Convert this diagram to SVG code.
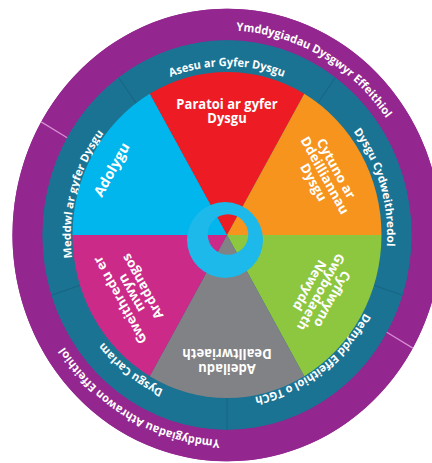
<svg xmlns="http://www.w3.org/2000/svg" width="432" height="463" viewBox="0 0 432 463">
<style>
.st{font-family:"Open Sans","Liberation Sans",sans-serif;font-weight:bold;font-size:13px;fill:#fff;text-anchor:middle}
.rt{font-family:"Open Sans","Liberation Sans",sans-serif;font-weight:bold;font-size:11px;fill:#fff;text-anchor:middle}
.pt{font-family:"Open Sans","Liberation Sans",sans-serif;font-weight:bold;font-size:11px;fill:#fff;text-anchor:middle}
.teal{fill:#1b7393}
.purple{fill:#93278f}
.tdiv{stroke:#176683;stroke-width:1}
.pdiv{stroke:#dc8fd6;stroke-width:1.2}
</style>
<defs>
<path id="p1" d="M-159.4,-13.9 A160,160 0 0 1 159.4,-13.9"/>
<path id="p2" d="M-33.3,-156.5 A160,160 0 0 1 59.9,148.4"/>
<path id="p3" d="M129.4,-94 A160,160 0 0 1 -129.4,94"/>
<path id="p4" d="M127.8,96.3 A160,160 0 0 1 -127.8,-96.3"/>
<path id="p5" d="M-41.4,154.5 A160,160 0 0 1 41.4,-154.5"/>
<path id="p6" d="M-160.8,-108.5 A194,194 0 0 1 177.2,78.9"/>
<path id="p7" d="M159.9,109.9 A194,194 0 0 1 -176.5,-80.5"/>
</defs>
<rect width="432" height="463" fill="#fff"/>
<g transform="translate(227,235) scale(1,1.055)">
  <circle r="214.5" class="purple"/>
  <circle r="184.5" class="teal"/>
  <g id="ring-learners">
    <path class="purple" d="M-185.8,-107.25 A214.5,214.5 0 0 1 107.25,-185.8 A214.5,214.5 0 0 1 185.8,107.25 L159.8,92.25 A184.5,184.5 0 0 0 92.25,-159.8 A184.5,184.5 0 0 0 -159.8,-92.25 Z"/>
    <text class="pt"><textPath href="#p6" startOffset="50%">Ymddygiadau Dysgwyr Effeithiol</textPath></text>
  </g>
  <g id="ring-teachers">
    <path class="purple" d="M185.8,107.25 A214.5,214.5 0 0 1 -107.25,185.8 A214.5,214.5 0 0 1 -185.8,-107.25 L-159.8,-92.25 A184.5,184.5 0 0 0 -92.25,159.8 A184.5,184.5 0 0 0 159.8,92.25 Z"/>
    <text class="pt"><textPath href="#p7" startOffset="50%">Ymddygiadau Athrawon Effeithiol</textPath></text>
  </g>
  <g id="seg-asesu">
    <path class="teal" d="M-108.4,-149.3 A184.5,184.5 0 0 1 108.4,-149.3 L90.8,-125 A154.5,154.5 0 0 0 -90.8,-125 Z"/>
    <text class="rt"><textPath href="#p1" startOffset="50%">Asesu ar Gyfer Dysgu</textPath></text>
  </g>
  <g id="seg-cydweithredol">
    <path class="teal" d="M108.4,-149.3 A184.5,184.5 0 0 1 175.5,57 L146.9,47.7 A154.5,154.5 0 0 0 90.8,-125 Z"/>
    <text class="rt"><textPath href="#p2" startOffset="50%">Dysgu Cydweithredol</textPath></text>
  </g>
  <g id="seg-tgch">
    <path class="teal" d="M175.5,57 A184.5,184.5 0 0 1 0,184.5 L0,154.5 A154.5,154.5 0 0 0 146.9,47.7 Z"/>
    <text class="rt"><textPath href="#p3" startOffset="50%">Defnydd Effeithiol o TGCh</textPath></text>
  </g>
  <g id="seg-carlam">
    <path class="teal" d="M0,184.5 A184.5,184.5 0 0 1 -175.5,57 L-146.9,47.7 A154.5,154.5 0 0 0 0,154.5 Z"/>
    <text class="rt"><textPath href="#p4" startOffset="50%">Dysgu Carlam</textPath></text>
  </g>
  <g id="seg-meddwl">
    <path class="teal" d="M-175.5,57 A184.5,184.5 0 0 1 -108.4,-149.3 L-90.8,-125 A154.5,154.5 0 0 0 -146.9,47.7 Z"/>
    <text class="rt"><textPath href="#p5" startOffset="50%">Meddwl ar gyfer Dysgu</textPath></text>
  </g>
  <g id="connectors">
    <line class="tdiv" x1="-90.8" y1="-125" x2="-108.4" y2="-149.3"/>
    <line class="tdiv" x1="90.8" y1="-125" x2="108.4" y2="-149.3"/>
    <line class="tdiv" x1="146.9" y1="47.7" x2="175.5" y2="57"/>
    <line class="tdiv" x1="0" y1="154.5" x2="0" y2="184.5"/>
    <line class="tdiv" x1="-146.9" y1="47.7" x2="-175.5" y2="57"/>
    <line class="pdiv" x1="159.8" y1="92.25" x2="185.8" y2="107.25"/>
    <line class="pdiv" x1="-159.8" y1="-92.25" x2="-185.8" y2="-107.25"/>
  </g>
  <g id="paratoi">
    <path fill="#ed1c24" d="M0,0 L-77.25,-133.8 A154.5,154.5 0 0 1 77.25,-133.8 Z"/>
    <text class="st" y="-119.5">Paratoi ar gyfer</text>
    <text class="st" y="-106.5">Dysgu</text>
  </g>
  <g id="cytuno">
    <path fill="#f7941d" d="M0,0 L77.25,-133.8 A154.5,154.5 0 0 1 154.5,0 Z"/>
    <g transform="rotate(60)">
      <text class="st" y="-121.5">Cytuno ar</text>
      <text class="st" y="-108.5">Ddeilliannau</text>
      <text class="st" y="-95.5">Dysgu</text>
    </g>
  </g>
  <g id="cyflwyno">
    <path fill="#8dc63f" d="M0,0 L154.5,0 A154.5,154.5 0 0 1 77.25,133.8 Z"/>
    <g transform="rotate(120)">
      <text class="st" y="-117">Cyflwyno</text>
      <text class="st" y="-104">Gwybodaeth</text>
      <text class="st" y="-91">Newydd</text>
    </g>
  </g>
  <g id="adeiladu">
    <path fill="#808285" d="M0,0 L77.25,133.8 A154.5,154.5 0 0 1 -77.25,133.8 Z"/>
    <g transform="rotate(180)">
      <text class="st" y="-122">Adeiladu</text>
      <text class="st" y="-108.5">Dealltwriaeth</text>
    </g>
  </g>
  <g id="gweithredu">
    <path fill="#cc2a89" d="M0,0 L-77.25,133.8 A154.5,154.5 0 0 1 -154.5,0 Z"/>
    <g transform="rotate(240)">
      <text class="st" y="-119">Gweithredu er</text>
      <text class="st" y="-106">mwyn</text>
      <text class="st" y="-93">Arddangos</text>
    </g>
  </g>
  <g id="adolygu">
    <path fill="#00b6ec" d="M0,0 L-154.5,0 A154.5,154.5 0 0 1 -77.25,-133.8 Z"/>
    <g transform="rotate(-60)">
      <text class="st" x="-4" y="-126" style="font-size:14px">Adolygu</text>
    </g>
  </g>
</g>
<g id="centre-ring">
  <path fill="#1cb9ea" fill-rule="evenodd" d="M187,240 a38,38 0 1,0 76,0 a38,38 0 1,0 -76,0 Z M207.7,234.5 a20.3,20.3 0 1,0 40.6,0 a20.3,20.3 0 1,0 -40.6,0 Z"/>
</g>
</svg>
